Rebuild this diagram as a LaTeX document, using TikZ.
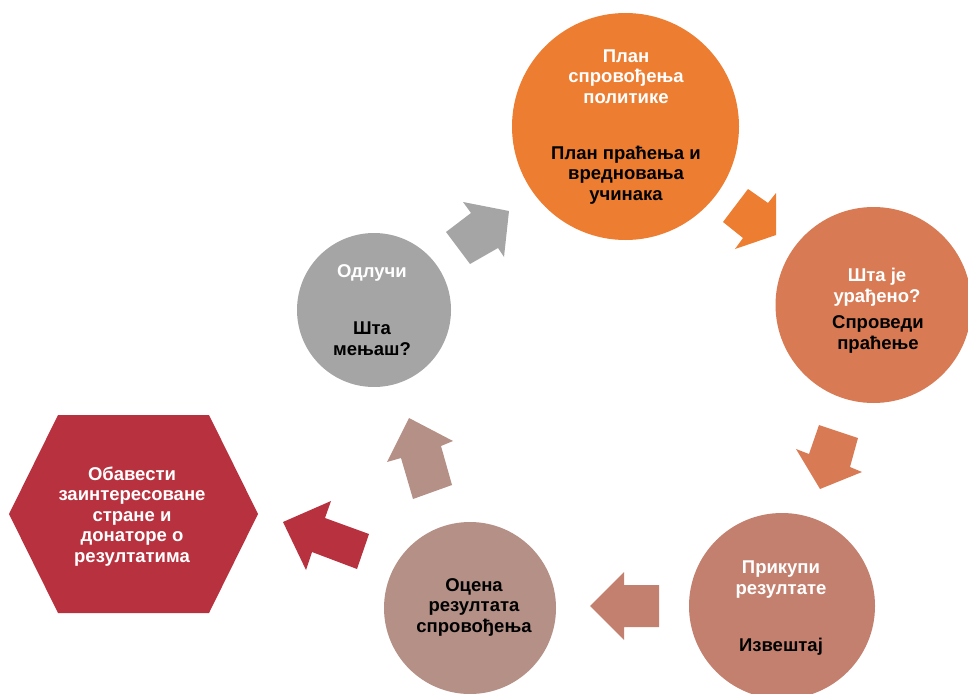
\documentclass[tikz,border=0pt]{standalone}
\usepackage{fontspec}
\setmainfont{Liberation Sans}
\definecolor{corange}{RGB}{237,125,49}
\definecolor{cright}{RGB}{216,123,84}
\definecolor{cbr}{RGB}{196,128,111}
\definecolor{cbm}{RGB}{180,144,135}
\definecolor{cgray}{RGB}{165,165,165}
\definecolor{cred}{RGB}{183,50,62}
\begin{document}
\begin{tikzpicture}[x=1pt,y=-1pt,
  disc/.style={circle, inner sep=0pt, draw=none},
  lbl/.style={anchor=base, align=center, inner sep=0pt, font=\fontsize{18.5}{20.5}\selectfont\bfseries},
  wt/.style={lbl, text=white},
  bk/.style={lbl, text=black}]
\useasboundingbox (0,0) rectangle (968,693);
\clip (0,0) rectangle (968,693);
% circles
\node[disc, fill=corange, minimum size=227pt] (plan) at (625.5,126.5) {};
\node[disc, fill=cright, minimum size=196pt] (done) at (873.5,305) {};
\node[disc, fill=cbr, minimum size=186pt] (collect) at (782,606) {};
\node[disc, fill=cbm, minimum size=172pt] (eval) at (470,608) {};
\node[disc, fill=cgray, minimum size=154pt] (decide) at (374,310) {};
% hexagon
\fill[cred] (9,514) -- (58,415) -- (209,415) -- (258,514) -- (209,613) -- (58,613) -- cycle;
\coordinate (hex) at (133.5,514);
% block arrows
\fill[cgray] (446,232) -- (471,213) -- (463,202) -- (509,211) -- (504,257) -- (498,248) -- (470,264) -- cycle;
\fill[corange] (748,189) -- (768,203) -- (776,193) -- (776,235) -- (735,249) -- (743,238) -- (723,222) -- cycle;
\fill[cright] (819,425) -- (858,438) -- (850,467) -- (862,472) -- (820,489) -- (796,449) -- (809,454) -- cycle;
\fill[cbr] (590,606) -- (624,572) -- (624,585) -- (659,585) -- (659,627) -- (624,627) -- (624,640) -- cycle;
\fill[cbm] (409,418) -- (453,441) -- (441,446) -- (452,485) -- (413,499) -- (401,458) -- (387,462) -- cycle;
\fill[cred] (283,522) -- (331,501) -- (325,518) -- (369,534) -- (357,569) -- (312,552) -- (306,570) -- cycle;
% texts (anchored at the baseline of the last line)
\node[wt] (t1a) at (626,103) {План\\спровођења\\политике};
\node[bk] (t1b) at (626,200) {План праћења и\\вредновања\\учинака};
\node[wt] (t2a) at (877,302) {Шта је\\урађено?};
\node[bk] (t2b) at (878,349) {Спроведи\\праћење};
\node[wt] (t3a) at (781,594) {Прикупи\\резултате};
\node[bk] (t3b) at (781,651) {Извештај};
\node[bk] (t4) at (474,632) {Оцена\\резултата\\спровођења};
\node[wt] (t5a) at (372,277) {Одлучи};
\node[bk] (t5b) at (372,355) {Шта\\мењаш?};
\node[wt] (t6) at (132,562) {Обавести\\заинтересоване\\стране и\\донаторе о\\резултатима};
\end{tikzpicture}
\end{document}
